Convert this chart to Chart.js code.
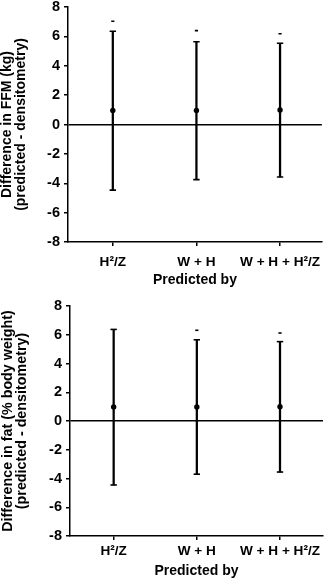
<!DOCTYPE html>
<html lang="en">
<head>
<meta charset="utf-8">
<script src="https://cdn.jsdelivr.net/npm/chart.js"></script>
<style>
  html, body { margin: 0; padding: 0; background: #fff; }
  canvas { display: block; }
</style>
</head>
<body>
<canvas id="ffm" width="329" height="290"></canvas>
<canvas id="fat" width="329" height="291"></canvas>
<script>
// categories (x axis)
const categories = ['H\u00b2/Z', 'W + H', 'W + H + H\u00b2/Z'];
const yTicks = [-8, -6, -4, -2, 0, 2, 4, 6, 8];

// top panel: difference in FFM (kg)
const ffmMean  = [0.96, 0.96, 0.99];
const ffmUpper = [6.35, 5.63, 5.53];
const ffmLower = [-4.47, -3.75, -3.57];
const ffmMarks = [7.03, 6.39, 6.18];

// bottom panel: difference in fat (% body weight)
const fatMean  = [0.97, 0.98, 1.0];
const fatUpper = [6.37, 5.65, 5.52];
const fatLower = [-4.45, -3.7, -3.55];
const fatMarks = [null, 6.31, 6.12];

const FONT = "'Liberation Sans', Arial, sans-serif";

function pts(arr) {
    return arr.map(function (v, i) { return { x: i, y: v }; });
}

function makeChart(id, mean, upper, lower, marks, title, p) {
    var ranges = lower.map(function (lo, i) { return { x: i, y: [lo, upper[i]] }; });
    return new Chart(document.getElementById(id), {
        type: 'bar',
        data: {
            datasets: [
                { // whisker
                    data: ranges,
                    backgroundColor: '#000',
                    borderWidth: 0,
                    barThickness: 1.6,
                    order: 3
                },
                { // upper cap
                    type: 'line', data: pts(upper), showLine: false,
                    pointStyle: 'line', pointRadius: 3.2, pointBorderWidth: 1.6,
                    borderColor: '#000', order: 2
                },
                { // lower cap
                    type: 'line', data: pts(lower), showLine: false,
                    pointStyle: 'line', pointRadius: 3.2, pointBorderWidth: 1.6,
                    borderColor: '#000', order: 2
                },
                { // small dash above each bar
                    type: 'line', data: pts(marks), showLine: false,
                    pointStyle: 'line', pointRadius: 1.6, pointBorderWidth: 1.6,
                    borderColor: '#000', order: 2
                },
                { // mean
                    type: 'line', data: pts(mean), showLine: false,
                    pointStyle: 'circle', pointRadius: 2.7, pointBorderWidth: 0,
                    backgroundColor: '#000', borderColor: '#000', order: 1
                }
            ]
        },
        options: {
            responsive: false,
            animation: false,
            devicePixelRatio: 1,
            layout: { padding: { top: p.top, right: p.right, bottom: 0, left: 0 } },
            plugins: { legend: { display: false }, tooltip: { enabled: false } },
            scales: {
                x: {
                    type: 'linear',
                    min: p.xMin, max: p.xMax,
                    offset: false,
                    afterBuildTicks: function (s) { s.ticks = categories.map(function (c, i) { return { value: i }; }); },
                    border: { color: '#000', width: 1.5 },
                    grid: { offset: false, drawOnChartArea: false, tickColor: '#000', tickLength: 4, lineWidth: 1.5 },
                    ticks: { color: '#000', padding: p.xPad, maxRotation: 0, autoSkip: false,
                             callback: function (v) { return categories[v]; },
                             font: { family: FONT, size: 13.6, weight: 'bold' } },
                    title: { display: true, text: 'Predicted by', color: '#000',
                             padding: { top: 0, bottom: 1 },
                             font: { family: FONT, size: 14, weight: 'bold' } },
                    afterFit: function (s) { s.height = p.xHeight; }
                },
                y: {
                    min: -8, max: 8,
                    afterBuildTicks: function (s) { s.ticks = yTicks.map(function (v) { return { value: v }; }); },
                    border: { color: '#000', width: 1.5 },
                    grid: {
                        color: function (c) { return c.tick && c.tick.value === 0 ? '#000' : 'rgba(0,0,0,0)'; },
                        lineWidth: 1.5, tickColor: '#000', tickLength: 4
                    },
                    // small lineHeight so the top label does not push the plot down
                    ticks: { color: '#000', padding: 4,
                             font: { family: FONT, size: 14.5, weight: 'bold', lineHeight: 0.4 } },
                    title: { display: true, text: title, color: '#000',
                             padding: { top: 0.5, bottom: 0 },
                             font: { family: FONT, size: p.titleSize, weight: 'bold', lineHeight: 1.0 } },
                    afterFit: function (s) { s.width = p.yWidth; }
                }
            }
        }
    });
}

makeChart('ffm', ffmMean, ffmUpper, ffmLower, ffmMarks,
    ['Difference in FFM (kg)', '(predicted - densitometry)'],
    { top: 7, right: 0.5, xHeight: 48, xPad: 8, yWidth: 68, titleSize: 14, xMin: -0.536, xMax: 2.5 });

makeChart('fat', fatMean, fatUpper, fatLower, fatMarks,
    ['Difference in fat (% body weight)', '(predicted - densitometry)'],
    { top: 16, right: 6, xHeight: 45, xPad: 3, yWidth: 70, titleSize: 14.3, xMin: -0.525, xMax: 2.517 });
</script>
</body>
</html>
